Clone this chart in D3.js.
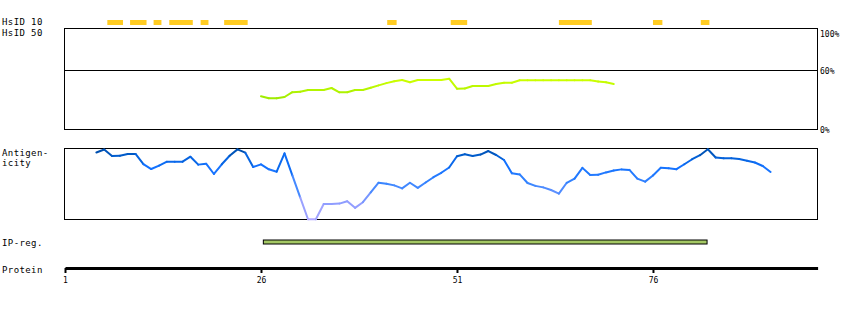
<!DOCTYPE html>
<html>
<head>
<meta charset="utf-8">
<script src="https://cdn.jsdelivr.net/npm/d3@7"></script>
<style>
  body { margin: 0; background: #fff; }
  text { font-family: "DejaVu Sans Mono", monospace; fill: #000; }
</style>
</head>
<body>
<div id="chart"></div>
<script>
var w = 850, h = 310; // size of the svg

// protein length and tick labels of the protein axis
var proteinLength = 97;
var proteinTicks = [1, 26, 51, 76];

// HsID 10 segments (start residue, end residue)
var hsid10Segments = [[6.4, 8.4], [9.3, 11.4], [12.3, 13.3], [14.3, 17.3], [18.3, 19.3], [21.3, 24.3],
                      [42.1, 43.3], [50.2, 52.3], [64.0, 68.2], [76.0, 77.2], [82.1, 83.2]];

// HsID 50 identity (%) per residue, starting at residue 26
var hsid50Start = 26;
var hsid50Values = [33.7, 31.7, 31.7, 33, 37.8, 38.2, 40, 40, 40, 42,
                    37.7, 37.7, 40, 40, 42.3, 44.6, 46.9, 48.8, 50, 47.7,
                    50, 50, 50, 50, 51.3, 41.3, 41.5, 44, 44, 44,
                    46, 47.3, 47.3, 49.7, 49.7, 49.7, 49.7, 49.7, 49.7, 49.7,
                    49.7, 49.7, 49.7, 48.5, 47.7, 46];
var identityTicks = [0, 60, 100];
var identityThreshold = 60;

// antigenicity score (0-100) per residue, starting at residue 5
var antigenStart = 5;
var antigenValues = [93.8, 97.9, 88.9, 89.3, 91.7, 91.7, 77.5, 70.8, 75.6, 81,
                     81, 81, 87.9, 76.9, 78.2, 63.9, 77.4, 89.2, 98.1, 93.5,
                     73.6, 77.2, 70.4, 67.1, 92.6, 62, 31.5, 1, 1, 22.2,
                     22.2, 22.8, 26.1, 16.9, 24.7, 38.2, 51.8, 50.3, 48.1, 43.9,
                     51.7, 44.7, 52.1, 59.4, 65.6, 72.9, 88.6, 91.3, 88.9, 90.9,
                     95.8, 90.3, 83.3, 64.9, 63.3, 51.4, 47.4, 45.3, 41.7, 36.7,
                     51.7, 57.5, 72.4, 62.5, 62.9, 66.1, 68.8, 70.3, 69.6, 57.5,
                     53.3, 61.9, 72.5, 71.8, 70.6, 77.4, 84.4, 90, 98.2, 86.8,
                     85.7, 85.7, 84.6, 82.4, 79.9, 75, 66.7];

// IP region (start residue, end residue)
var ipRegions = [[26.3, 82.9]];

var svg = d3.select("#chart")
    .append("svg")
    .attr("width", w)
    .attr("height", h);

// scales
var x = d3.scaleLinear().domain([1, proteinLength]).range([65, 817.6]);
var yId = d3.scaleLinear().domain([0, 100]).range([130, 30]);
var yAg = d3.scaleLinear().domain([0, 100]).range([220, 148]);

var idColor = d3.scaleLinear().domain([30, 50]).range(["#9aea00", "#ccff00"]).clamp(true);
var agColor = d3.scaleLinear()
    .domain([0, 25, 50, 75, 90, 100])
    .range(["#b4aaff", "#8c9cff", "#3a86ff", "#1070ff", "#005ccc", "#00489c"]);

// row labels on the left
var labels = [
  {t: "HsID 10", y: 25}, {t: "HsID 50", y: 36},
  {t: "Antigen-", y: 156}, {t: "icity", y: 166},
  {t: "IP-reg.", y: 246}, {t: "Protein", y: 273}
];
svg.selectAll("text.lab")
    .data(labels)
    .enter()
    .append("text")
    .attr("class", "lab")
    .attr("x", 2)
    .attr("y", function(d) { return d.y; })
    .style("font-size", "9px")
    .style("letter-spacing", "0.4px")
    .text(function(d) { return d.t; });

// HsID 10 bars
svg.selectAll("rect.hs10")
    .data(hsid10Segments)
    .enter()
    .append("rect")
    .attr("class", "hs10")
    .attr("x", function(d) { return x(d[0]); })
    .attr("y", 20)
    .attr("width", function(d) { return x(d[1]) - x(d[0]); })
    .attr("height", 5)
    .attr("fill", "#ffcc22");

// HsID 50 frame
svg.append("rect")
    .attr("x", 64.5).attr("y", 28.5)
    .attr("width", 753).attr("height", 101)
    .attr("fill", "none").attr("stroke", "#000").attr("stroke-width", 1)
    .attr("shape-rendering", "crispEdges");

svg.append("line")
    .attr("x1", 64.5).attr("x2", 817.5)
    .attr("y1", Math.round(yId(identityThreshold)) + 0.5)
    .attr("y2", Math.round(yId(identityThreshold)) + 0.5)
    .attr("stroke", "#000").attr("stroke-width", 1)
    .attr("shape-rendering", "crispEdges");

var idLabelY = {0: 133, 60: 74, 100: 37};
svg.selectAll("text.pct")
    .data(identityTicks)
    .enter()
    .append("text")
    .attr("class", "pct")
    .attr("x", 820)
    .attr("y", function(d) { return idLabelY[d]; })
    .style("font-size", "8px")
    .text(function(d) { return d + "%"; });

// draw a line made of segments that are coloured by their value
function colouredLine(values, start, yScale, colour, cls) {
  var pairs = d3.pairs(values.map(function(v, i) { return {p: start + i, v: v}; }));
  svg.selectAll("line." + cls)
      .data(pairs)
      .enter()
      .append("line")
      .attr("class", cls)
      .attr("x1", function(d) { return x(d[0].p); })
      .attr("y1", function(d) { return yScale(d[0].v); })
      .attr("x2", function(d) { return x(d[1].p); })
      .attr("y2", function(d) { return yScale(d[1].v); })
      .attr("stroke", function(d) { return colour((d[0].v + d[1].v) / 2); })
      .attr("stroke-width", 2)
      .attr("stroke-linecap", "round");
}

colouredLine(hsid50Values, hsid50Start, yId, idColor, "hs50");

// antigenicity frame
svg.append("rect")
    .attr("x", 64.5).attr("y", 148.5)
    .attr("width", 753).attr("height", 71)
    .attr("fill", "none").attr("stroke", "#000").attr("stroke-width", 1)
    .attr("shape-rendering", "crispEdges");

colouredLine(antigenValues, antigenStart, yAg, agColor, "ag");

// IP region bar
svg.selectAll("rect.ip")
    .data(ipRegions)
    .enter()
    .append("rect")
    .attr("class", "ip")
    .attr("x", function(d) { return x(d[0]); })
    .attr("y", 240)
    .attr("width", function(d) { return x(d[1]) - x(d[0]); })
    .attr("height", 4)
    .attr("fill", "#a4c864")
    .attr("stroke", "#000")
    .attr("stroke-width", 1);

// protein axis
var axis = svg.append("g")
    .attr("transform", "translate(0,268)")
    .call(d3.axisBottom(x).tickValues(proteinTicks).tickSize(5).tickSizeOuter(0));

axis.select(".domain").attr("stroke-width", 3);
axis.selectAll(".tick line").attr("stroke-width", 2);
axis.selectAll(".tick text")
    .attr("y", 9)
    .style("font-family", "DejaVu Sans Mono, monospace")
    .style("font-size", "8px");
</script>
</body>
</html>
